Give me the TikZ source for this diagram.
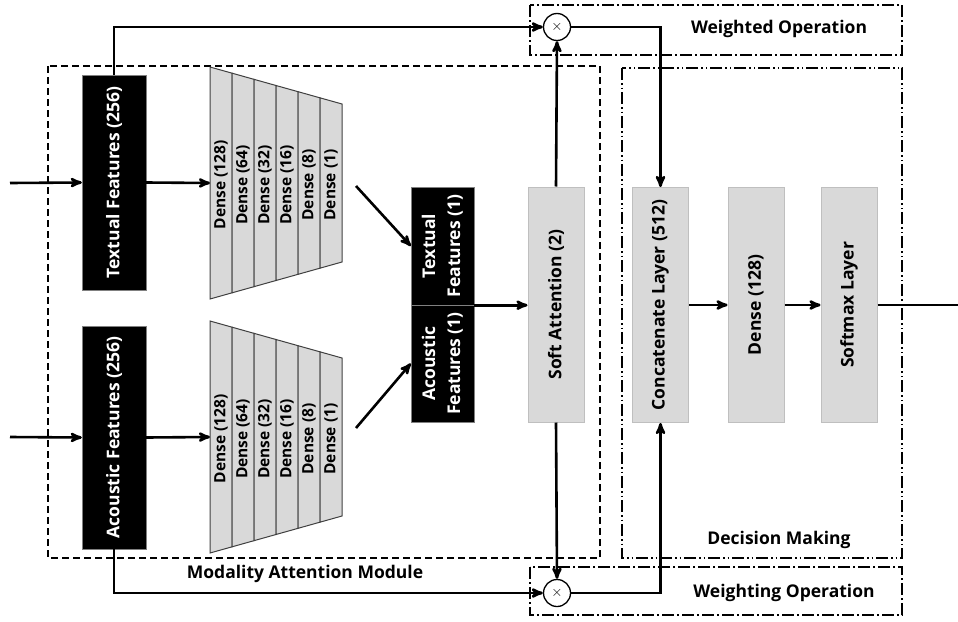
\documentclass[tikz,border=0pt]{standalone}
\usepackage{fontspec}
\setmainfont{Open Sans}
\usetikzlibrary{arrows}
\definecolor{layergray}{HTML}{D9D9D9}
\definecolor{edgegray}{HTML}{BFBFBF}

\newcommand{\vtext}[1]{\rotatebox{90}{#1}}

\begin{document}
\begin{tikzpicture}[x=1pt, y=-1pt, >=stealth', font=\fontsize{17.5}{25}\selectfont\bfseries]

\useasboundingbox (0,0) rectangle (958,621);

\tikzstyle{blackbox}=[rectangle, fill=black, draw=gray, text=white, inner sep=0pt, minimum width=64pt]
\tikzstyle{graybox}=[rectangle, fill=layergray, draw=edgegray, line width=1pt, inner sep=0pt, minimum width=56pt, minimum height=235pt]
\tikzstyle{link}=[->, line width=2.6pt]
\tikzstyle{mult}=[circle, draw, fill=white, minimum size=27pt, inner sep=0pt, line width=1.3pt]

% frames
\draw[dash pattern=on 7pt off 4pt, line width=1.6pt] (48,66) rectangle (600,558);
\draw[dash pattern=on 12pt off 3pt on 2pt off 3pt, line width=1.6pt] (530,5) rectangle (902,55);
\draw[dash pattern=on 12pt off 3pt on 2pt off 3pt, line width=1.6pt] (530,567) rectangle (902,615);
\draw[dash pattern=on 12pt off 3pt on 1.5pt off 3pt on 1.5pt off 3pt, line width=1.6pt] (622,68) rectangle (902,558);

\node (wdlabel) at (779,29) {Weighted Operation};
\node (wglabel) at (784,593) {Weighting Operation};
\node (dmlabel) at (779,540) {Decision Making};
\node (malabel) at (305,574) {Modality Attention Module};

% dense stacks
\foreach \c/\m in {183/t,437/a}
  \foreach \n [count=\i from 0] in {128,64,32,16,8,1} {
    \pgfmathsetmacro\xa{210+22*\i}
    \pgfmathsetmacro\xb{\xa+22}
    \pgfmathsetmacro\ha{116-37*\i/6}
    \pgfmathsetmacro\hb{116-37*(\i+1)/6}
    \draw[fill=layergray, draw=black!75, line width=1pt]
      (\xa,\c-\ha) -- (\xb,\c-\hb) -- (\xb,\c+\hb) -- (\xa,\c+\ha) -- cycle;
    \node[font=\fontsize{15.5}{18}\selectfont\bfseries] (\m dense\n) at (\xa+11,\c+2) {\vtext{Dense (\n)}};
  }

\node[blackbox, minimum height=215pt] (tx) at (114,182.5) {\vtext{Textual Features (256)}};
\node[blackbox, minimum height=223pt] (ac) at (114,437.5) {\vtext{Acoustic Features (256)}};
\node[blackbox, minimum width=63pt, minimum height=118pt] (tf) at (442.5,246)
  {\vtext{\begin{tabular}{@{}c@{}}Textual\\Features (1)\end{tabular}}};
\node[blackbox, minimum width=63pt, minimum height=117pt] (af) at (442.5,363.5)
  {\vtext{\begin{tabular}{@{}c@{}}Acoustic\\Features (1)\end{tabular}}};

\node[graybox] (sa) at (556,304.5) {\vtext{Soft Attention (2)}};
\node[graybox] (cc) at (660.5,305) {\vtext{Concatenate Layer (512)}};
\node[graybox] (dn) at (756,305) {\vtext{Dense (128)}};
\node[graybox] (sm) at (849,305) {\vtext{Softmax Layer}};

\node[mult, font=\Large] (mt) at (557,27) {$\times$};
\node[mult, font=\Large] (mb) at (557,593) {$\times$};

\coordinate (tin) at (10,183);
\coordinate (ain) at (10,437);
\coordinate (tleft) at (210,183);
\coordinate (aleft) at (210,437);
\coordinate (tright) at (356,186);
\coordinate (aright) at (356,428);
\coordinate (out) at (958,305);

\draw[link] (tin) -- (tx.west);
\draw[link] (ain) -- (ac.west);
\draw[link] (tx.east) -- (tleft);
\draw[link] (ac.east) -- (aleft);
\draw[link] (tright) -- (tf.west);
\draw[link] (aright) -- (af.west);
\draw[link] (tf.south east) -- (sa.west |- tf.south east);

\draw[link] (sa.north) -- (mt.south);
\draw[link] (sa.south) -- (mb.north);
\draw[link] (tx.north) |- (mt.west);
\draw[link] (ac.south) |- (mb.west);
\draw[link] (mt.east) -| (cc.north);
\draw[link] (mb.east) -| (cc.south);

\draw[link] (cc.east) -- (dn.west);
\draw[link] (dn.east) -- (sm.west);
\draw[line width=2.6pt] (sm.east) -- (out);

\end{tikzpicture}
\end{document}
